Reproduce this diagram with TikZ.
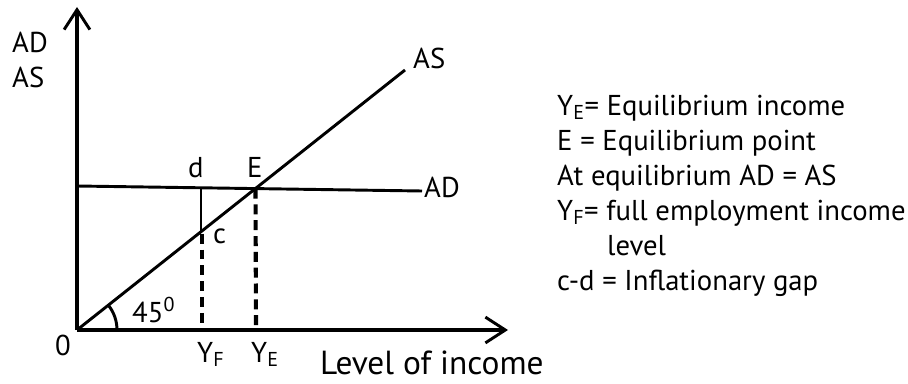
\documentclass[tikz,border=0pt]{standalone}
\usepackage{fontspec}
\setmainfont{PT Sans}
\usetikzlibrary{arrows.meta,calc}

\begin{document}
\begin{tikzpicture}[x=0.03cm, y=0.03cm, line join=round,
    axis/.style={line width=3pt},
    curve/.style={line width=2.5pt},
    drop/.style={line width=3.5pt, dash pattern=on 8.5pt off 5pt},
    lbl/.style={font=\fontsize{24.5}{29}\selectfont, inner sep=0pt, anchor=base west},
    >={Straight Barb[length=17pt, width=22pt, line width=2.5pt]}]
    \useasboundingbox (0,0) rectangle (908,383);

    \coordinate (O)     at (77,53);
    \coordinate (ytop)  at (77,376);
    \coordinate (xend)  at (508,53);
    \coordinate (ASend) at (405,313);
    \coordinate (ADbeg) at (77,197);
    \coordinate (ADend) at (422,192);
    \coordinate (E)     at (255.5,194.4);
    \coordinate (c)     at (201,151.3);
    \coordinate (d)     at (201,195.2);
    \coordinate (YF)    at (202,53);
    \coordinate (YE)    at (256,53);

    % axes
    \draw[axis, ->] (O) -- (ytop);
    \draw[axis, ->] (O) -- (xend);

    % AS and AD
    \draw[curve] (O) -- (ASend);
    \draw[curve] (ADbeg) -- (ADend);
    \draw[line width=2.2pt] (d) -- (c);

    \draw[drop] (E) -- (YE);
    \draw[drop] ($(c)+(1,-2)$) -- (YF);

    \draw[curve] ($(O)+(40,0)$) arc[start angle=0, end angle=38.4, radius=40];

    \node[lbl] (ylab1) at (12,330) {AD};
    \node[lbl] (ylab2) at (12,296) {AS};
    \node[lbl] (aslab) at (413,315) {AS};
    \node[lbl] (adlab) at (424,186) {AD};
    \node[lbl] (dlab)  at (188,206) {d};
    \node[lbl] (elab)  at (247,206) {E};
    \node[lbl] (clab)  at (213,140) {c};
    \node[lbl] (anglab) at (132,61) {45\textsuperscript{0}};
    \node[lbl] (olab)  at (55,28) {0};
    \node[lbl] (yflab) at (197,21) {Y\textsubscript{F}};
    \node[lbl] (yelab) at (251,21) {Y\textsubscript{E}};
    \node[lbl, font=\fontsize{28.5}{33}\selectfont] (xlab) at (320,9) {Level of income};

    % legend
    \node[lbl] (leg1) at (557,268) {Y\textsubscript{E}= Equilibrium income};
    \node[lbl] (leg2) at (557,233) {E = Equilibrium point};
    \node[lbl] (leg3) at (557,198) {At equilibrium AD = AS};
    \node[lbl] (leg4) at (557,163) {Y\textsubscript{F}= full employment income};
    \node[lbl] (leg5) at (607,128) {level};
    \node[lbl] (leg6) at (557,93) {c-d = Inflationary gap};
\end{tikzpicture}
\end{document}
